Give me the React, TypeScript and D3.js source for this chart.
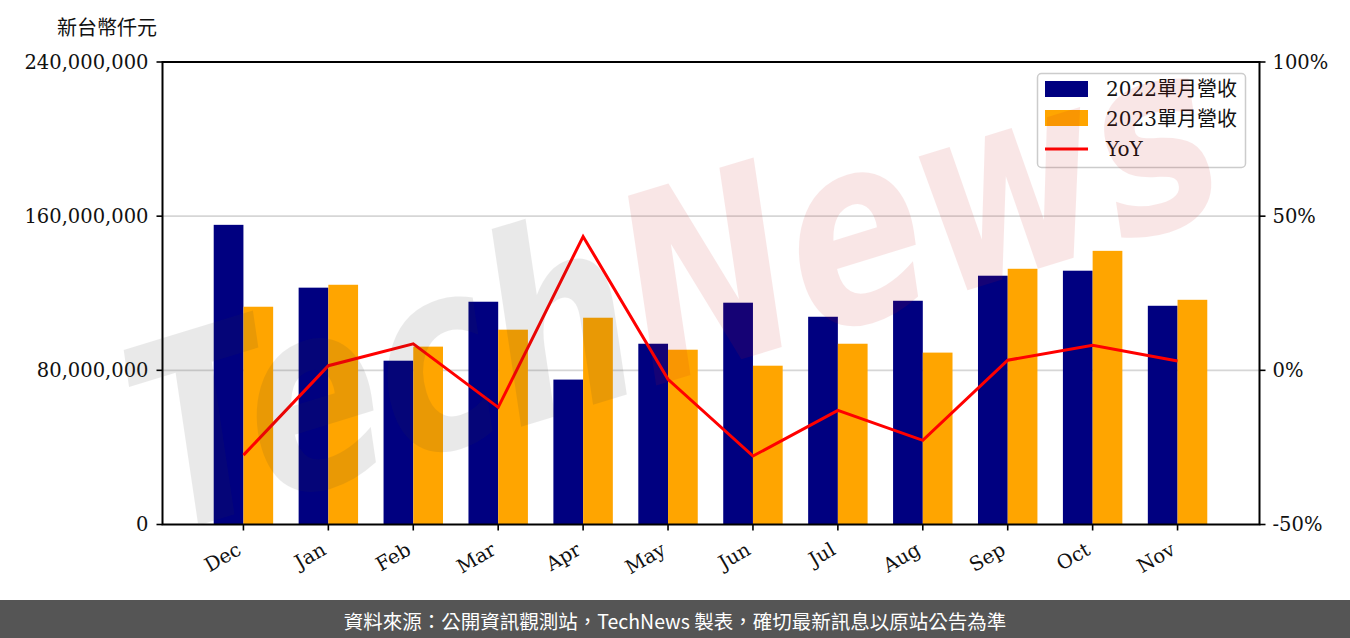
import React from 'react';
import * as d3 from 'd3';

const months = ['Dec', 'Jan', 'Feb', 'Mar', 'Apr', 'May', 'Jun', 'Jul', 'Aug', 'Sep', 'Oct', 'Nov'];
const rev2022 = [155500000, 122900000, 85000000, 115600000, 75200000, 93800000, 115100000, 107800000, 116100000, 129100000, 131700000, 113500000];
const rev2023 = [113000000, 124400000, 92300000, 101100000, 107300000, 90700000, 82400000, 93800000, 89200000, 132700000, 142000000, 116600000];
const yoyPct = [-27.5, 1.5, 8.6, -12.0, 43.4, -2.9, -27.8, -13.0, -22.7, 3.3, 8.1, 3.0];
const leftTicks = [0, 80000000, 160000000, 240000000];
const rightTicks = [-50, 0, 50, 100];
const legendLabels = ['2022單月營收', '2023單月營收', 'YoY'];

const SERIF = '"DejaVu Serif", "Noto Sans CJK TC", serif';

export default function App() {
  const W = 1350;
  const H = 638;
  const m = { l: 162.5, r: 1259.5, t: 62, b: 524.5 };
  const x = d3.scaleLinear().domain([-0.953, 11.965]).range([m.l, m.r]);
  const unit = x(1) - x(0);
  const bw = 0.35 * unit;
  const yL = d3.scaleLinear().domain([0, 240000000]).range([m.b, m.t]);
  const yR = d3.scaleLinear().domain([-50, 100]).range([m.b, m.t]);
  const line = d3.line<number>().x((_, i) => x(i)).y((d) => yR(d));
  const fmt = d3.format(',');

  return (
    <svg width={W} height={H} style={{ position: 'absolute', left: 0, top: 0, background: '#fff' }}>
      <rect x={0} y={0} width={W} height={H} fill="#fff" />
      {/* gridlines */}
      {leftTicks.filter((t) => t > 0 && t < 240000000).map((t) => (
        <line key={'g' + t} x1={m.l} x2={m.r} y1={yL(t)} y2={yL(t)} stroke="#d6d6d6" strokeWidth={1.6} />
      ))}
      {/* bars */}
      {rev2022.map((v, i) => (
        <rect key={'a' + i} x={x(i) - bw} y={yL(v)} width={bw} height={yL(0) - yL(v)} fill="#000080" />
      ))}
      {rev2023.map((v, i) => (
        <rect key={'b' + i} x={x(i)} y={yL(v)} width={bw} height={yL(0) - yL(v)} fill="#ffa500" />
      ))}
      {/* yoy line */}
      <path d={line(yoyPct) || ''} fill="none" stroke="#ff0000" strokeWidth={3} strokeLinejoin="miter" />
      {/* spines */}
      <rect x={m.l} y={m.t} width={m.r - m.l} height={m.b - m.t} fill="none" stroke="#000" strokeWidth={2} />
      {/* left ticks */}
      {leftTicks.map((t) => (
        <g key={'lt' + t}>
          <line x1={m.l - 6} x2={m.l} y1={yL(t)} y2={yL(t)} stroke="#000" strokeWidth={1.6} />
          <text x={m.l - 14} y={yL(t)} textAnchor="end" dominantBaseline="central" fontFamily={SERIF} fontSize={19.5} fill="#111">
            {fmt(t)}
          </text>
        </g>
      ))}
      {/* right ticks */}
      {rightTicks.map((t) => (
        <g key={'rt' + t}>
          <line x1={m.r} x2={m.r + 6} y1={yR(t)} y2={yR(t)} stroke="#000" strokeWidth={1.6} />
          <text x={m.r + 13} y={yR(t)} textAnchor="start" dominantBaseline="central" fontFamily={SERIF} fontSize={19.5} fill="#111">
            {t + '%'}
          </text>
        </g>
      ))}
      {/* x ticks */}
      {months.map((mo, i) => (
        <g key={'xt' + mo}>
          <line x1={x(i)} x2={x(i)} y1={m.b} y2={m.b + 6} stroke="#000" strokeWidth={1.6} />
          <text
            transform={`translate(${x(i) - 1},${m.b + 29}) rotate(-30)`}
            textAnchor="end"
            fontFamily={SERIF}
            fontSize={19.5}
            fill="#111"
          >
            {mo}
          </text>
        </g>
      ))}
      {/* unit title */}
      <text x={57} y={35} fontFamily={SERIF} fontSize={20} fill="#111">新台幣仟元</text>
      {/* legend */}
      <g>
        <rect x={1037.5} y={73.5} width={208} height={94} rx={4} fill="#fff" fillOpacity={0.8} stroke="#cccccc" strokeWidth={1.5} />
        <rect x={1045} y={81} width={43} height={16} fill="#000080" />
        <rect x={1045} y={110} width={43} height={16} fill="#ffa500" />
        <line x1={1045} x2={1088} y1={149} y2={149} stroke="#ff0000" strokeWidth={3} />
        {legendLabels.map((l, i) => (
          <text key={l} x={1106} y={89 + i * 30} dominantBaseline="central" fontFamily={SERIF} fontSize={20} fill="#111">
            {l}
          </text>
        ))}
      </g>
      {/* watermark */}
      <g opacity={0.1} transform="translate(700,372) rotate(-17)">
        <text
          textAnchor="middle"
          fontFamily='"DejaVu Sans", sans-serif'
          fontStyle="italic"
          fontWeight="bold"
          fontSize={260}
          textLength={1120}
          lengthAdjust="spacingAndGlyphs"
        >
          <tspan fill="#373737">Tech</tspan>
          <tspan fill="#cd1919">News</tspan>
        </text>
      </g>
      {/* footer */}
      <rect x={0} y={600} width={W} height={38} fill="#555555" />
      <text x={675} y={620} textAnchor="middle" dominantBaseline="central" fontFamily='"Noto Sans CJK TC", sans-serif' fontSize={19.5} fill="#fff">
        資料來源：公開資訊觀測站，TechNews 製表，確切最新訊息以原站公告為準
      </text>
    </svg>
  );
}
